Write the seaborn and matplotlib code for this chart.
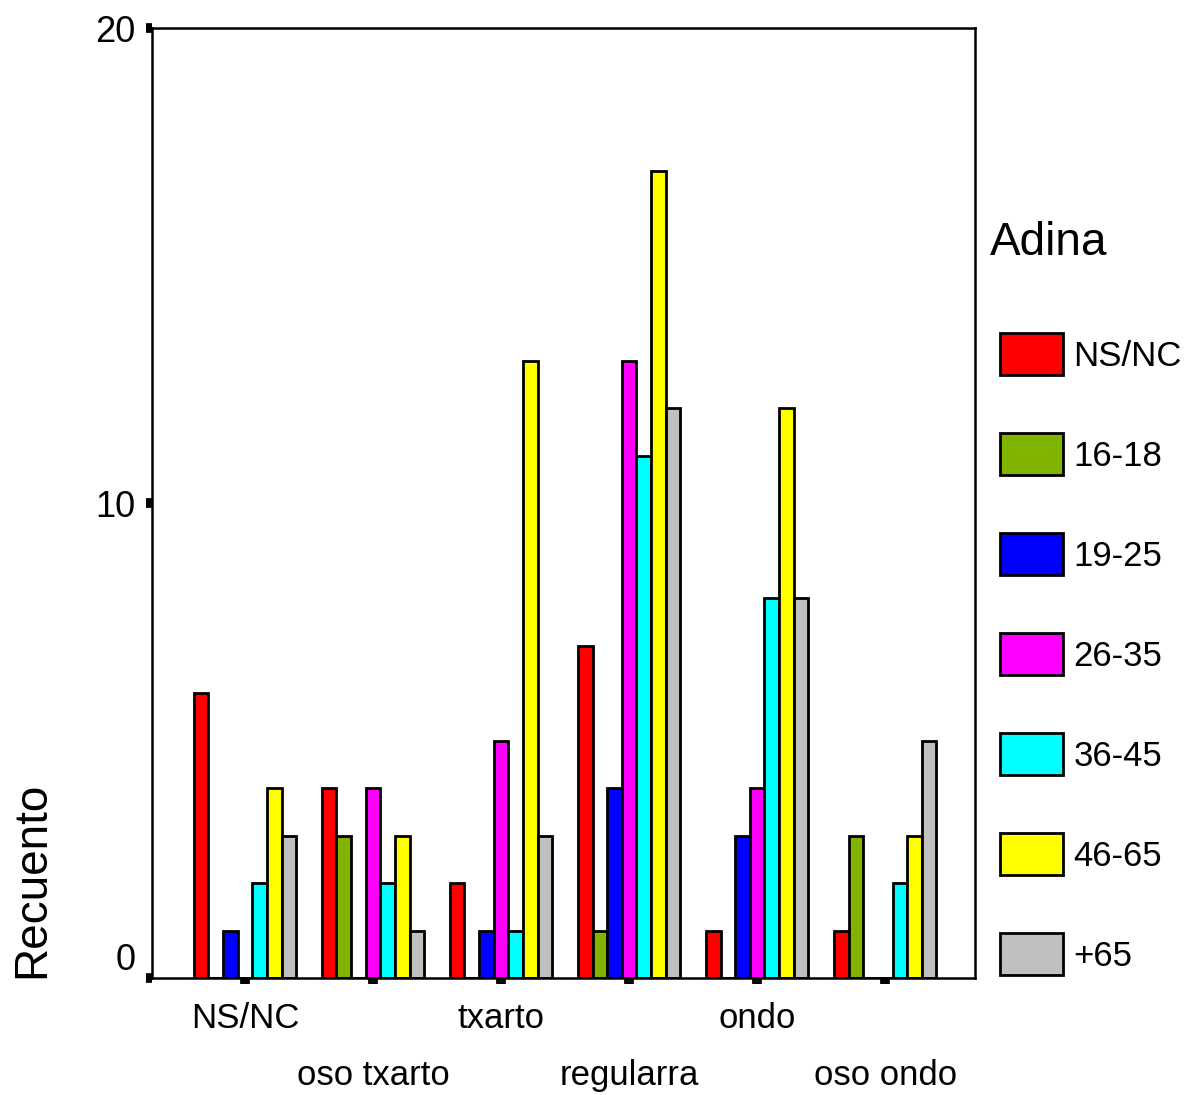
import matplotlib
matplotlib.use("Agg")
import matplotlib.pyplot as plt
import pandas as pd
import seaborn as sns

# Categories (x axis) and age groups (hue)
categories = ["NS/NC", "oso txarto", "txarto", "regularra", "ondo", "oso ondo"]
age_groups = ["NS/NC", "16-18", "19-25", "26-35", "36-45", "46-65", "+65"]
colors = ["#FF0000", "#80B400", "#0000FF", "#FF00FF", "#00FFFF", "#FFFF00", "#C0C0C0"]

# Counts per age group, one value per category
ns_nc = [6, 4, 2, 7, 1, 1]
a16_18 = [0, 3, 0, 1, 0, 3]
a19_25 = [1, 0, 1, 4, 3, 0]
a26_35 = [0, 4, 5, 13, 4, 0]
a36_45 = [2, 2, 1, 11, 8, 2]
a46_65 = [4, 3, 13, 17, 12, 3]
a65 = [3, 1, 3, 12, 8, 5]

series = [ns_nc, a16_18, a19_25, a26_35, a36_45, a46_65, a65]
rows = []
for grp, vals in zip(age_groups, series):
    for cat, v in zip(categories, vals):
        rows.append({"cat": cat, "Adina": grp, "Recuento": v})
df = pd.DataFrame(rows)

sns.set_theme(style="white")
plt.rcParams["font.family"] = ["Liberation Sans", "DejaVu Sans"]
plt.rcParams.update({
    "text.color": "black", "axes.labelcolor": "black",
    "xtick.color": "black", "ytick.color": "black",
})

fig = plt.figure(figsize=(11.86, 10.95), dpi=100)
ax = fig.add_axes([0.128, 0.1068, 0.694, 0.8676])

sns.barplot(
    data=df, x="cat", y="Recuento", hue="Adina", order=categories,
    hue_order=age_groups, palette=colors, width=0.8, saturation=1,
    edgecolor="black", linewidth=2, errorbar=None, ax=ax,
)

ax.set_xlim(-0.727, 5.70)
ax.set_ylim(0, 20)
ax.set_yticks([0, 10, 20])
ax.set_yticklabels(["0", "10", "20"], fontsize=26)
for lbl in ax.get_yticklabels():
    if lbl.get_text() == "0":
        lbl.set_va("bottom")

labels = [c if i % 2 == 0 else "\n" + c for i, c in enumerate(categories)]
ax.set_xticks(range(len(categories)))
ax.set_xticklabels(labels, fontsize=25, linespacing=1.95, va="top")
ax.set_xlabel("")
ax.set_ylabel("Recuento", fontsize=33, loc="bottom", labelpad=29)

ax.tick_params(axis="both", direction="out", length=4, width=7,
               color="black", bottom=True, left=True)
ax.tick_params(axis="x", pad=13)
ax.tick_params(axis="y", pad=8)
for s in ax.spines.values():
    s.set_color("black")
    s.set_linewidth(1.8)

fig.text(990 / 1186, 1 - 243 / 1095, "Adina", fontsize=33,
         ha="left", va="center")
leg = ax.legend(
    loc="upper left", bbox_to_anchor=(1000 / 1186, 1 - 333 / 1095),
    bbox_transform=fig.transFigure, frameon=False, fontsize=25,
    handlelength=1.82, handleheight=1.5, labelspacing=1.66,
    handletextpad=0.3, borderaxespad=0, borderpad=0,
)
for h in leg.legend_handles:
    h.set_edgecolor("black")
    h.set_linewidth(2)

fig.savefig("out.png", dpi=100)
